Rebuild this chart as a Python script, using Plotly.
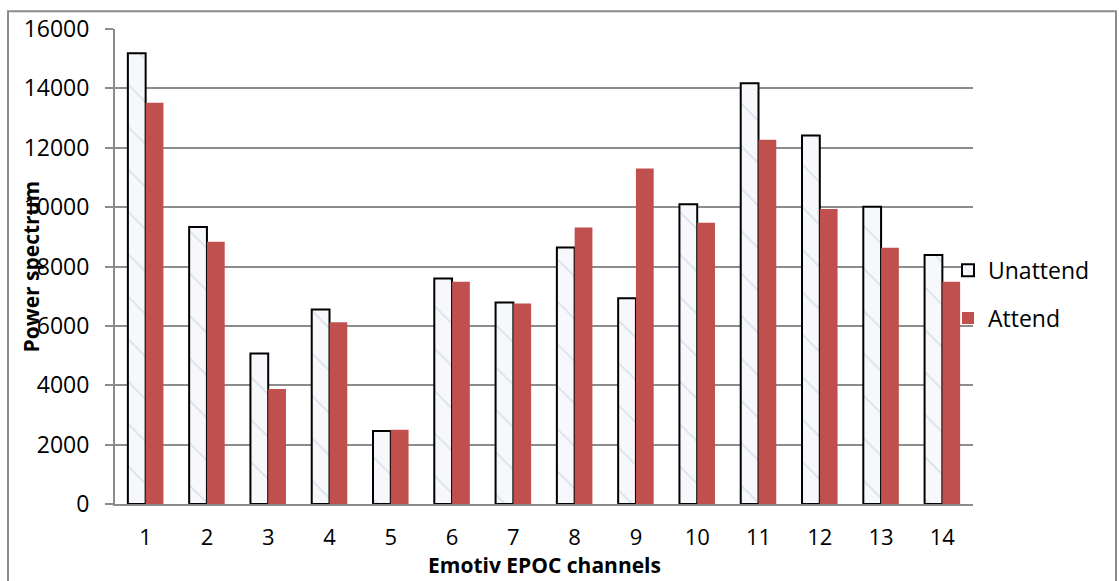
import plotly.graph_objects as go

# Mean power spectrum per Emotiv EPOC channel
channels = [str(i) for i in range(1, 15)]
unattend = [15180, 9330, 5070, 6550, 2460, 7600, 6790, 8640, 6930, 10100, 14170, 12410, 10010, 8390]
attend = [13520, 8830, 3870, 6120, 2500, 7490, 6750, 9310, 11300, 9470, 12270, 9940, 8630, 7490]
y_ticks = [0, 2000, 4000, 6000, 8000, 10000, 12000, 14000, 16000]

W, H = 1119, 581
L, R, T, B = 115, 146, 24, 77
PW, PH = W - L - R, H - T - B

def px_x(x):
    return (x - L) / PW

def px_y(y):
    return (H - B - y) / PH

GRID = "#8c8c8c"
FONT = "Open Sans"

fig = go.Figure()
fig.add_trace(go.Bar(
    x=channels, y=unattend, name="Unattend", legendgroup="u",
    marker=dict(
        color="#f4f7fa",
        line=dict(color="#000000", width=2),
        pattern=dict(shape="\\", fgcolor="#c3cbd5", bgcolor="#f6f8fb", size=30, solidity=0.06),
    ),
))
fig.add_trace(go.Bar(
    x=channels, y=attend, name="Attend", legendgroup="a",
    marker=dict(color="#c0504d", line=dict(width=0)),
))

fig.update_layout(
    width=W, height=H,
    margin=dict(l=L, r=R, t=T, b=B),
    paper_bgcolor="white", plot_bgcolor="white",
    barmode="group", bargap=0.42, bargroupgap=0,
    font=dict(family=FONT, size=23, color="#000000"),
    legend=dict(
        x=px_x(948), y=px_y(246), xanchor="left", yanchor="top",
        font=dict(family=FONT, size=23, color="#000000"),
        tracegroupgap=15, bgcolor="rgba(0,0,0,0)",
    ),
    xaxis=dict(
        type="category", showgrid=False, ticks="", showline=True,
        linecolor=GRID, linewidth=2, ticklabelstandoff=13,
        tickfont=dict(family=FONT, size=22),
    ),
    yaxis=dict(
        range=[0, 16000], tickvals=y_ticks, tickformat="d",
        showgrid=True, gridcolor=GRID, gridwidth=2,
        ticks="outside", ticklen=8, tickcolor=GRID, tickwidth=2,
        showline=True, linecolor=GRID, linewidth=2, zeroline=False,
        ticklabelstandoff=11, tickfont=dict(family=FONT, size=23),
    ),
    shapes=[dict(
        type="rect", xref="paper", yref="paper",
        x0=px_x(8), x1=px_x(1116), y0=px_y(600), y1=px_y(6),
        line=dict(color=GRID, width=2), fillcolor="rgba(0,0,0,0)", layer="below",
    )],
    annotations=[
        dict(text="<b>Power spectrum</b>", xref="paper", yref="paper",
             x=px_x(30), y=0.5, textangle=-90, showarrow=False,
             xanchor="center", yanchor="middle", font=dict(family=FONT, size=21)),
        dict(text="<b>Emotiv EPOC channels</b>", xref="paper", yref="paper",
             x=0.5, y=px_y(566), showarrow=False,
             xanchor="center", yanchor="middle", font=dict(family=FONT, size=21)),
    ],
)

fig.write_html("out.html")
